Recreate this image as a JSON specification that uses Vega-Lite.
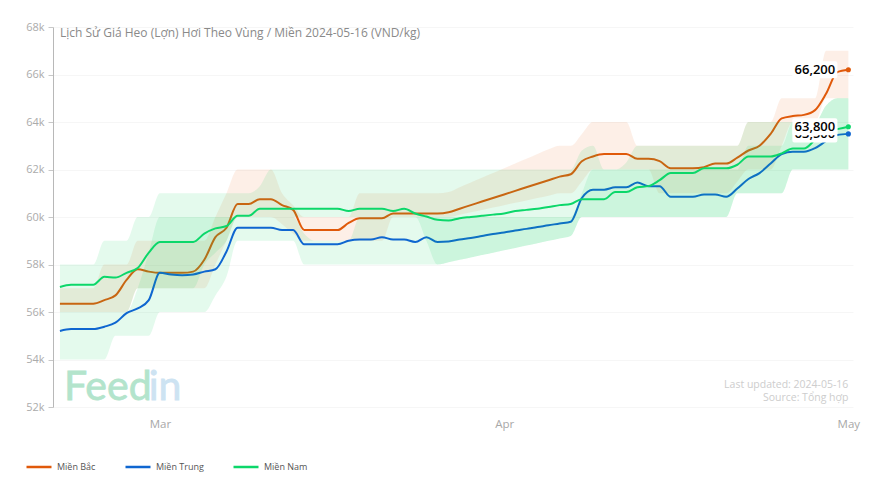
{
  "$schema": "https://vega.github.io/schema/vega-lite/v6.json",
  "width": 800,
  "height": 380,
  "autosize": {"type": "none"},
  "padding": {"left": 53, "top": 27, "right": 30, "bottom": 87},
  "background": "#ffffff",
  "title": {
    "text": "Lịch Sử Giá Heo (Lợn) Hơi Theo Vùng / Miền 2024-05-16 (VND/kg)",
    "anchor": "start", "frame": "group", "orient": "top", "offset": 0, "dx": 7, "dy": 19,
    "font": "Open Sans", "fontSize": 12, "fontWeight": "normal", "color": "#8a8a8a"
  },
  "config": {"view": {"stroke": null}, "font": "Open Sans"},
  "datasets": {
    "labels": [
      {"date": "2024-05-02", "region": "Miền Bắc", "price": 66200},
      {"date": "2024-05-02", "region": "Miền Trung", "price": 63500},
      {"date": "2024-05-02", "region": "Miền Nam", "price": 63800}
    ],
    "logo": [
      {"date": "2024-02-21", "price": 52290, "mark": "Feed"}
    ],
    "logo2": [
      {"date": "2024-02-29", "price": 52290, "mark": "in"}
    ],
    "notes": [
      {"date": "2024-05-02", "price": 52930, "note": "Last updated: 2024-05-16"},
      {"date": "2024-05-02", "price": 52380, "note": "Source: Tổng hợp"}
    ],
    "series": [
      {"date":"2024-02-21","region":"Miền Bắc","price":56350,"low":56000,"high":57000},
      {"date":"2024-02-22","region":"Miền Bắc","price":56350,"low":56000,"high":57000},
      {"date":"2024-02-23","region":"Miền Bắc","price":56350,"low":56000,"high":57000},
      {"date":"2024-02-24","region":"Miền Bắc","price":56350,"low":56000,"high":57000},
      {"date":"2024-02-25","region":"Miền Bắc","price":56500,"low":56000,"high":58000},
      {"date":"2024-02-26","region":"Miền Bắc","price":56700,"low":56000,"high":58000},
      {"date":"2024-02-27","region":"Miền Bắc","price":57350,"low":56000,"high":58000},
      {"date":"2024-02-28","region":"Miền Bắc","price":57800,"low":57000,"high":59000},
      {"date":"2024-02-29","region":"Miền Bắc","price":57700,"low":57000,"high":59000},
      {"date":"2024-03-01","region":"Miền Bắc","price":57650,"low":57000,"high":59000},
      {"date":"2024-03-02","region":"Miền Bắc","price":57650,"low":57000,"high":59000},
      {"date":"2024-03-03","region":"Miền Bắc","price":57650,"low":57000,"high":59000},
      {"date":"2024-03-04","region":"Miền Bắc","price":57700,"low":57000,"high":59000},
      {"date":"2024-03-05","region":"Miền Bắc","price":58200,"low":57000,"high":59000},
      {"date":"2024-03-06","region":"Miền Bắc","price":59150,"low":58000,"high":60000},
      {"date":"2024-03-07","region":"Miền Bắc","price":59550,"low":59000,"high":61000},
      {"date":"2024-03-08","region":"Miền Bắc","price":60550,"low":60000,"high":62000},
      {"date":"2024-03-09","region":"Miền Bắc","price":60550,"low":60000,"high":62000},
      {"date":"2024-03-10","region":"Miền Bắc","price":60750,"low":60000,"high":62000},
      {"date":"2024-03-11","region":"Miền Bắc","price":60750,"low":60000,"high":62000},
      {"date":"2024-03-12","region":"Miền Bắc","price":60500,"low":59700,"high":61000},
      {"date":"2024-03-13","region":"Miền Bắc","price":60300,"low":59300,"high":60500},
      {"date":"2024-03-14","region":"Miền Bắc","price":59450,"low":59000,"high":60000},
      {"date":"2024-03-15","region":"Miền Bắc","price":59450,"low":59000,"high":60000},
      {"date":"2024-03-16","region":"Miền Bắc","price":59450,"low":59000,"high":60000},
      {"date":"2024-03-17","region":"Miền Bắc","price":59450,"low":59000,"high":60000},
      {"date":"2024-03-18","region":"Miền Bắc","price":59750,"low":59000,"high":60000},
      {"date":"2024-03-19","region":"Miền Bắc","price":59950,"low":59000,"high":61000},
      {"date":"2024-03-20","region":"Miền Bắc","price":59950,"low":59000,"high":61000},
      {"date":"2024-03-21","region":"Miền Bắc","price":59950,"low":59000,"high":61000},
      {"date":"2024-03-22","region":"Miền Bắc","price":60150,"low":60000,"high":61000},
      {"date":"2024-03-23","region":"Miền Bắc","price":60150,"low":60000,"high":61000},
      {"date":"2024-03-24","region":"Miền Bắc","price":60150,"low":60000,"high":61000},
      {"date":"2024-03-25","region":"Miền Bắc","price":60150,"low":60000,"high":61000},
      {"date":"2024-03-26","region":"Miền Bắc","price":60150,"low":60000,"high":61000},
      {"date":"2024-03-27","region":"Miền Bắc","price":60200,"low":60000,"high":61050},
      {"date":"2024-03-28","region":"Miền Bắc","price":60350,"low":60100,"high":61250},
      {"date":"2024-03-29","region":"Miền Bắc","price":60500,"low":60200,"high":61450},
      {"date":"2024-03-30","region":"Miền Bắc","price":60650,"low":60300,"high":61650},
      {"date":"2024-03-31","region":"Miền Bắc","price":60800,"low":60400,"high":61850},
      {"date":"2024-04-01","region":"Miền Bắc","price":60950,"low":60500,"high":62050},
      {"date":"2024-04-02","region":"Miền Bắc","price":61100,"low":60600,"high":62250},
      {"date":"2024-04-03","region":"Miền Bắc","price":61250,"low":60700,"high":62450},
      {"date":"2024-04-04","region":"Miền Bắc","price":61400,"low":60800,"high":62650},
      {"date":"2024-04-05","region":"Miền Bắc","price":61550,"low":60900,"high":62850},
      {"date":"2024-04-06","region":"Miền Bắc","price":61700,"low":61000,"high":63000},
      {"date":"2024-04-07","region":"Miền Bắc","price":61800,"low":61000,"high":63000},
      {"date":"2024-04-08","region":"Miền Bắc","price":62350,"low":61500,"high":63500},
      {"date":"2024-04-09","region":"Miền Bắc","price":62550,"low":62000,"high":64000},
      {"date":"2024-04-10","region":"Miền Bắc","price":62650,"low":62000,"high":64000},
      {"date":"2024-04-11","region":"Miền Bắc","price":62650,"low":62000,"high":64000},
      {"date":"2024-04-12","region":"Miền Bắc","price":62650,"low":62000,"high":64000},
      {"date":"2024-04-13","region":"Miền Bắc","price":62450,"low":62000,"high":63000},
      {"date":"2024-04-14","region":"Miền Bắc","price":62450,"low":62000,"high":63000},
      {"date":"2024-04-15","region":"Miền Bắc","price":62350,"low":61000,"high":63000},
      {"date":"2024-04-16","region":"Miền Bắc","price":62050,"low":61000,"high":63000},
      {"date":"2024-04-17","region":"Miền Bắc","price":62050,"low":61000,"high":63000},
      {"date":"2024-04-18","region":"Miền Bắc","price":62050,"low":61000,"high":63000},
      {"date":"2024-04-19","region":"Miền Bắc","price":62100,"low":61000,"high":63000},
      {"date":"2024-04-20","region":"Miền Bắc","price":62250,"low":61000,"high":63000},
      {"date":"2024-04-21","region":"Miền Bắc","price":62250,"low":61000,"high":63000},
      {"date":"2024-04-22","region":"Miền Bắc","price":62500,"low":61500,"high":63000},
      {"date":"2024-04-23","region":"Miền Bắc","price":62800,"low":62000,"high":64000},
      {"date":"2024-04-24","region":"Miền Bắc","price":63000,"low":62000,"high":64000},
      {"date":"2024-04-25","region":"Miền Bắc","price":63500,"low":62000,"high":64000},
      {"date":"2024-04-26","region":"Miền Bắc","price":64150,"low":63000,"high":65000},
      {"date":"2024-04-27","region":"Miền Bắc","price":64250,"low":64000,"high":65000},
      {"date":"2024-04-28","region":"Miền Bắc","price":64300,"low":64000,"high":65000},
      {"date":"2024-04-29","region":"Miền Bắc","price":64500,"low":64000,"high":65000},
      {"date":"2024-04-30","region":"Miền Bắc","price":65200,"low":65000,"high":67000},
      {"date":"2024-05-01","region":"Miền Bắc","price":66100,"low":65000,"high":67000},
      {"date":"2024-05-02","region":"Miền Bắc","price":66200,"low":65000,"high":67000},

      {"date":"2024-02-21","region":"Miền Trung","price":55200,"low":54000,"high":56000},
      {"date":"2024-02-22","region":"Miền Trung","price":55280,"low":54000,"high":56000},
      {"date":"2024-02-23","region":"Miền Trung","price":55280,"low":54000,"high":56000},
      {"date":"2024-02-24","region":"Miền Trung","price":55280,"low":54000,"high":56000},
      {"date":"2024-02-25","region":"Miền Trung","price":55380,"low":54000,"high":56000},
      {"date":"2024-02-26","region":"Miền Trung","price":55550,"low":55000,"high":56000},
      {"date":"2024-02-27","region":"Miền Trung","price":55950,"low":55000,"high":56000},
      {"date":"2024-02-28","region":"Miền Trung","price":56150,"low":55000,"high":57000},
      {"date":"2024-02-29","region":"Miền Trung","price":56500,"low":55000,"high":58500},
      {"date":"2024-03-01","region":"Miền Trung","price":57650,"low":56000,"high":60000},
      {"date":"2024-03-02","region":"Miền Trung","price":57580,"low":56000,"high":60000},
      {"date":"2024-03-03","region":"Miền Trung","price":57550,"low":56000,"high":60000},
      {"date":"2024-03-04","region":"Miền Trung","price":57580,"low":56000,"high":60000},
      {"date":"2024-03-05","region":"Miền Trung","price":57700,"low":56000,"high":60000},
      {"date":"2024-03-06","region":"Miền Trung","price":57800,"low":56700,"high":60000},
      {"date":"2024-03-07","region":"Miền Trung","price":58550,"low":57500,"high":60000},
      {"date":"2024-03-08","region":"Miền Trung","price":59550,"low":59000,"high":60000},
      {"date":"2024-03-09","region":"Miền Trung","price":59550,"low":59000,"high":60000},
      {"date":"2024-03-10","region":"Miền Trung","price":59550,"low":59000,"high":60000},
      {"date":"2024-03-11","region":"Miền Trung","price":59550,"low":59000,"high":60000},
      {"date":"2024-03-12","region":"Miền Trung","price":59450,"low":59000,"high":60000},
      {"date":"2024-03-13","region":"Miền Trung","price":59450,"low":59000,"high":60000},
      {"date":"2024-03-14","region":"Miền Trung","price":58850,"low":58000,"high":59300},
      {"date":"2024-03-15","region":"Miền Trung","price":58850,"low":58000,"high":59000},
      {"date":"2024-03-16","region":"Miền Trung","price":58850,"low":58000,"high":59000},
      {"date":"2024-03-17","region":"Miền Trung","price":58850,"low":58000,"high":59000},
      {"date":"2024-03-18","region":"Miền Trung","price":59000,"low":58000,"high":59000},
      {"date":"2024-03-19","region":"Miền Trung","price":59050,"low":58000,"high":60000},
      {"date":"2024-03-20","region":"Miền Trung","price":59050,"low":58000,"high":60000},
      {"date":"2024-03-21","region":"Miền Trung","price":59150,"low":58000,"high":60000},
      {"date":"2024-03-22","region":"Miền Trung","price":59050,"low":58000,"high":60000},
      {"date":"2024-03-23","region":"Miền Trung","price":59050,"low":58000,"high":60000},
      {"date":"2024-03-24","region":"Miền Trung","price":58950,"low":58000,"high":60000},
      {"date":"2024-03-25","region":"Miền Trung","price":59150,"low":58000,"high":60000},
      {"date":"2024-03-26","region":"Miền Trung","price":58950,"low":58000,"high":60000},
      {"date":"2024-03-27","region":"Miền Trung","price":58970,"low":58100,"high":60000},
      {"date":"2024-03-28","region":"Miền Trung","price":59050,"low":58200,"high":60000},
      {"date":"2024-03-29","region":"Miền Trung","price":59120,"low":58300,"high":60000},
      {"date":"2024-03-30","region":"Miền Trung","price":59200,"low":58400,"high":60000},
      {"date":"2024-03-31","region":"Miền Trung","price":59280,"low":58500,"high":60000},
      {"date":"2024-04-01","region":"Miền Trung","price":59350,"low":58600,"high":60000},
      {"date":"2024-04-02","region":"Miền Trung","price":59430,"low":58700,"high":60000},
      {"date":"2024-04-03","region":"Miền Trung","price":59500,"low":58800,"high":60000},
      {"date":"2024-04-04","region":"Miền Trung","price":59580,"low":58900,"high":60000},
      {"date":"2024-04-05","region":"Miền Trung","price":59650,"low":59000,"high":60000},
      {"date":"2024-04-06","region":"Miền Trung","price":59730,"low":59100,"high":60000},
      {"date":"2024-04-07","region":"Miền Trung","price":59800,"low":59200,"high":60000},
      {"date":"2024-04-08","region":"Miền Trung","price":60800,"low":60000,"high":61000},
      {"date":"2024-04-09","region":"Miền Trung","price":61150,"low":60000,"high":62000},
      {"date":"2024-04-10","region":"Miền Trung","price":61150,"low":60000,"high":62000},
      {"date":"2024-04-11","region":"Miền Trung","price":61250,"low":60000,"high":62000},
      {"date":"2024-04-12","region":"Miền Trung","price":61250,"low":60000,"high":62000},
      {"date":"2024-04-13","region":"Miền Trung","price":61450,"low":60000,"high":62000},
      {"date":"2024-04-14","region":"Miền Trung","price":61300,"low":60000,"high":62000},
      {"date":"2024-04-15","region":"Miền Trung","price":61300,"low":60000,"high":62000},
      {"date":"2024-04-16","region":"Miền Trung","price":60850,"low":60000,"high":62000},
      {"date":"2024-04-17","region":"Miền Trung","price":60850,"low":60000,"high":62000},
      {"date":"2024-04-18","region":"Miền Trung","price":60850,"low":60000,"high":62000},
      {"date":"2024-04-19","region":"Miền Trung","price":60950,"low":60000,"high":62000},
      {"date":"2024-04-20","region":"Miền Trung","price":60950,"low":60000,"high":62000},
      {"date":"2024-04-21","region":"Miền Trung","price":60850,"low":60000,"high":62000},
      {"date":"2024-04-22","region":"Miền Trung","price":61200,"low":61000,"high":62000},
      {"date":"2024-04-23","region":"Miền Trung","price":61600,"low":61000,"high":63000},
      {"date":"2024-04-24","region":"Miền Trung","price":61850,"low":61000,"high":63000},
      {"date":"2024-04-25","region":"Miền Trung","price":62250,"low":61000,"high":63000},
      {"date":"2024-04-26","region":"Miền Trung","price":62650,"low":61000,"high":63000},
      {"date":"2024-04-27","region":"Miền Trung","price":62750,"low":62000,"high":64000},
      {"date":"2024-04-28","region":"Miền Trung","price":62750,"low":62000,"high":64000},
      {"date":"2024-04-29","region":"Miền Trung","price":62900,"low":62000,"high":64000},
      {"date":"2024-04-30","region":"Miền Trung","price":63200,"low":62000,"high":64700},
      {"date":"2024-05-01","region":"Miền Trung","price":63450,"low":62000,"high":65000},
      {"date":"2024-05-02","region":"Miền Trung","price":63500,"low":62000,"high":65000},

      {"date":"2024-02-21","region":"Miền Nam","price":57050,"low":56000,"high":58000},
      {"date":"2024-02-22","region":"Miền Nam","price":57150,"low":56000,"high":58000},
      {"date":"2024-02-23","region":"Miền Nam","price":57150,"low":56000,"high":58000},
      {"date":"2024-02-24","region":"Miền Nam","price":57150,"low":56000,"high":58000},
      {"date":"2024-02-25","region":"Miền Nam","price":57480,"low":56000,"high":59000},
      {"date":"2024-02-26","region":"Miền Nam","price":57450,"low":56000,"high":59000},
      {"date":"2024-02-27","region":"Miền Nam","price":57650,"low":56000,"high":59000},
      {"date":"2024-02-28","region":"Miền Nam","price":57850,"low":57000,"high":60000},
      {"date":"2024-02-29","region":"Miền Nam","price":58500,"low":57000,"high":60000},
      {"date":"2024-03-01","region":"Miền Nam","price":58950,"low":57000,"high":61000},
      {"date":"2024-03-02","region":"Miền Nam","price":58950,"low":57000,"high":61000},
      {"date":"2024-03-03","region":"Miền Nam","price":58950,"low":57000,"high":61000},
      {"date":"2024-03-04","region":"Miền Nam","price":58950,"low":57000,"high":61000},
      {"date":"2024-03-05","region":"Miền Nam","price":59300,"low":58000,"high":61000},
      {"date":"2024-03-06","region":"Miền Nam","price":59520,"low":58500,"high":61000},
      {"date":"2024-03-07","region":"Miền Nam","price":59620,"low":59000,"high":61000},
      {"date":"2024-03-08","region":"Miền Nam","price":60050,"low":60000,"high":61000},
      {"date":"2024-03-09","region":"Miền Nam","price":60050,"low":60000,"high":61000},
      {"date":"2024-03-10","region":"Miền Nam","price":60350,"low":60000,"high":61300},
      {"date":"2024-03-11","region":"Miền Nam","price":60350,"low":60000,"high":62000},
      {"date":"2024-03-12","region":"Miền Nam","price":60350,"low":60000,"high":62000},
      {"date":"2024-03-13","region":"Miền Nam","price":60350,"low":60000,"high":62000},
      {"date":"2024-03-14","region":"Miền Nam","price":60350,"low":60000,"high":62000},
      {"date":"2024-03-15","region":"Miền Nam","price":60350,"low":60000,"high":62000},
      {"date":"2024-03-16","region":"Miền Nam","price":60350,"low":60000,"high":62000},
      {"date":"2024-03-17","region":"Miền Nam","price":60350,"low":60000,"high":62000},
      {"date":"2024-03-18","region":"Miền Nam","price":60250,"low":60000,"high":62000},
      {"date":"2024-03-19","region":"Miền Nam","price":60350,"low":60000,"high":62000},
      {"date":"2024-03-20","region":"Miền Nam","price":60350,"low":60000,"high":62000},
      {"date":"2024-03-21","region":"Miền Nam","price":60350,"low":60000,"high":62000},
      {"date":"2024-03-22","region":"Miền Nam","price":60250,"low":60000,"high":62000},
      {"date":"2024-03-23","region":"Miền Nam","price":60350,"low":60000,"high":62000},
      {"date":"2024-03-24","region":"Miền Nam","price":60150,"low":60000,"high":62000},
      {"date":"2024-03-25","region":"Miền Nam","price":60020,"low":59000,"high":62000},
      {"date":"2024-03-26","region":"Miền Nam","price":59880,"low":58000,"high":62000},
      {"date":"2024-03-27","region":"Miền Nam","price":59850,"low":58100,"high":62000},
      {"date":"2024-03-28","region":"Miền Nam","price":59950,"low":58200,"high":62000},
      {"date":"2024-03-29","region":"Miền Nam","price":60000,"low":58300,"high":62000},
      {"date":"2024-03-30","region":"Miền Nam","price":60050,"low":58400,"high":62000},
      {"date":"2024-03-31","region":"Miền Nam","price":60100,"low":58500,"high":62000},
      {"date":"2024-04-01","region":"Miền Nam","price":60150,"low":58600,"high":62000},
      {"date":"2024-04-02","region":"Miền Nam","price":60250,"low":58700,"high":62000},
      {"date":"2024-04-03","region":"Miền Nam","price":60300,"low":58800,"high":62000},
      {"date":"2024-04-04","region":"Miền Nam","price":60350,"low":58900,"high":62000},
      {"date":"2024-04-05","region":"Miền Nam","price":60420,"low":59000,"high":62000},
      {"date":"2024-04-06","region":"Miền Nam","price":60500,"low":59100,"high":62000},
      {"date":"2024-04-07","region":"Miền Nam","price":60550,"low":59200,"high":62000},
      {"date":"2024-04-08","region":"Miền Nam","price":60750,"low":60000,"high":62800},
      {"date":"2024-04-09","region":"Miền Nam","price":60750,"low":60000,"high":63000},
      {"date":"2024-04-10","region":"Miền Nam","price":60750,"low":60000,"high":62000},
      {"date":"2024-04-11","region":"Miền Nam","price":61050,"low":60000,"high":62000},
      {"date":"2024-04-12","region":"Miền Nam","price":61050,"low":60000,"high":62300},
      {"date":"2024-04-13","region":"Miền Nam","price":61250,"low":60000,"high":63000},
      {"date":"2024-04-14","region":"Miền Nam","price":61300,"low":60000,"high":63000},
      {"date":"2024-04-15","region":"Miền Nam","price":61550,"low":60000,"high":63000},
      {"date":"2024-04-16","region":"Miền Nam","price":61850,"low":60000,"high":63000},
      {"date":"2024-04-17","region":"Miền Nam","price":61850,"low":60000,"high":63000},
      {"date":"2024-04-18","region":"Miền Nam","price":61850,"low":60000,"high":63000},
      {"date":"2024-04-19","region":"Miền Nam","price":62050,"low":60000,"high":63000},
      {"date":"2024-04-20","region":"Miền Nam","price":62050,"low":60000,"high":63000},
      {"date":"2024-04-21","region":"Miền Nam","price":62050,"low":60000,"high":63000},
      {"date":"2024-04-22","region":"Miền Nam","price":62200,"low":61000,"high":63000},
      {"date":"2024-04-23","region":"Miền Nam","price":62550,"low":61000,"high":64000},
      {"date":"2024-04-24","region":"Miền Nam","price":62550,"low":61000,"high":64000},
      {"date":"2024-04-25","region":"Miền Nam","price":62550,"low":61000,"high":64000},
      {"date":"2024-04-26","region":"Miền Nam","price":62680,"low":61000,"high":64000},
      {"date":"2024-04-27","region":"Miền Nam","price":62880,"low":62000,"high":64000},
      {"date":"2024-04-28","region":"Miền Nam","price":62880,"low":62000,"high":64000},
      {"date":"2024-04-29","region":"Miền Nam","price":63250,"low":62000,"high":64000},
      {"date":"2024-04-30","region":"Miền Nam","price":63600,"low":62000,"high":64700},
      {"date":"2024-05-01","region":"Miền Nam","price":63700,"low":62000,"high":65000},
      {"date":"2024-05-02","region":"Miền Nam","price":63800,"low":62000,"high":65000}
    ]
  },
  "data": {"name": "series"},
  "encoding": {
    "x": {
      "field": "date",
      "type": "temporal",
      "title": null,
      "scale": {
        "type": "utc",
        "domain": [
          {"year": 2024, "month": 2, "date": 20, "hours": 9, "utc": true},
          {"year": 2024, "month": 5, "date": 2, "hours": 10, "utc": true}
        ]
      },
      "axis": {
        "values": [
          {"year": 2024, "month": 3, "date": 1, "utc": true},
          {"year": 2024, "month": 4, "date": 1, "utc": true},
          {"year": 2024, "month": 5, "date": 2, "utc": true}
        ],
        "labelExpr": "utcFormat(datum.value, '%b')",
        "domain": false,
        "ticks": false,
        "grid": false,
        "labelFont": "Open Sans",
        "labelFontSize": 11.5,
        "labelColor": "#a8a8a8",
        "labelPadding": 11,
        "labelFlush": false,
        "labelOverlap": false,
        "labelBound": false
      }
    },
    "y": {
      "field": "price",
      "type": "quantitative",
      "title": null,
      "scale": {"domain": [52000, 68000], "nice": false, "zero": false},
      "axis": {
        "values": [52000, 54000, 56000, 58000, 60000, 62000, 64000, 66000, 68000],
        "labelExpr": "datum.value / 1000 + 'k'",
        "domain": true,
        "domainColor": "#b8b8b8",
        "domainWidth": 1,
        "ticks": true,
        "tickColor": "#c8c8c8",
        "tickSize": 5,
        "grid": true,
        "gridColor": "#f6f6f6",
        "gridWidth": 1,
        "labelFont": "Open Sans",
        "labelFontSize": 11,
        "labelColor": "#ababab",
        "labelPadding": 4
      }
    }
  },
  "layer": [
    {
      "transform": [{"filter": "datum.region === 'Miền Bắc'"}],
      "mark": {"type": "area", "interpolate": "monotone", "color": "#ee7a37", "opacity": 0.12},
      "encoding": {"y": {"field": "low", "type": "quantitative"}, "y2": {"field": "high"}}
    },
    {
      "transform": [{"filter": "datum.region === 'Miền Bắc'"}],
      "mark": {"type": "line", "interpolate": "monotone", "strokeWidth": 2},
      "encoding": {
        "color": {
          "field": "region", "type": "nominal", "title": null,
          "scale": {"domain": ["Miền Bắc", "Miền Trung", "Miền Nam"], "range": ["#e0590a", "#0f66d0", "#0cd76a"]},
          "legend": {
            "orient": "none", "legendX": -28, "legendY": 426, "direction": "horizontal", "columns": 3,
            "symbolType": "stroke", "symbolSize": 625, "symbolStrokeWidth": 2.5,
            "labelFont": "Open Sans", "labelFontSize": 9, "labelColor": "#555555",
            "columnPadding": 24, "labelOffset": 4
          }
        }
      }
    },
    {
      "transform": [{"filter": "datum.region === 'Miền Trung'"}],
      "mark": {"type": "area", "interpolate": "monotone", "color": "#05cd5f", "opacity": 0.11},
      "encoding": {"y": {"field": "low", "type": "quantitative"}, "y2": {"field": "high"}}
    },
    {
      "transform": [{"filter": "datum.region === 'Miền Trung'"}],
      "mark": {"type": "line", "interpolate": "monotone", "strokeWidth": 2},
      "encoding": {"color": {"field": "region", "type": "nominal"}}
    },
    {
      "transform": [{"filter": "datum.region === 'Miền Nam'"}],
      "mark": {"type": "area", "interpolate": "monotone", "color": "#05cd5f", "opacity": 0.11},
      "encoding": {"y": {"field": "low", "type": "quantitative"}, "y2": {"field": "high"}}
    },
    {
      "transform": [{"filter": "datum.region === 'Miền Nam'"}],
      "mark": {"type": "line", "interpolate": "monotone", "strokeWidth": 2},
      "encoding": {"color": {"field": "region", "type": "nominal"}}
    },
    {
      "data": {"name": "labels"},
      "mark": {"type": "circle", "size": 26, "opacity": 1},
      "encoding": {"color": {"field": "region", "type": "nominal"}}
    },
    {
      "data": {"name": "labels"},
      "transform": [{"filter": "datum.region !== 'Miền Nam'"}],
      "layer": [
        {"mark": {"type": "rect", "width": 45, "height": 17, "xOffset": -33.5, "color": "#ffffff", "opacity": 1, "cornerRadius": 2}},
        {
          "mark": {"type": "text", "dx": -33.5, "align": "center", "baseline": "middle", "font": "Open Sans", "fontSize": 13, "fontWeight": 600, "color": "#000000"},
          "encoding": {"text": {"field": "price", "type": "quantitative", "format": ",.0f"}}
        }
      ]
    },
    {
      "data": {"name": "labels"},
      "transform": [{"filter": "datum.region === 'Miền Nam'"}],
      "layer": [
        {"mark": {"type": "rect", "width": 45, "height": 17, "xOffset": -33.5, "color": "#ffffff", "opacity": 1, "cornerRadius": 2}},
        {
          "mark": {"type": "text", "dx": -33.5, "align": "center", "baseline": "middle", "font": "Open Sans", "fontSize": 13, "fontWeight": 600, "color": "#000000"},
          "encoding": {"text": {"field": "price", "type": "quantitative", "format": ",.0f"}}
        }
      ]
    },
    {
      "data": {"name": "notes"},
      "mark": {"type": "text", "align": "right", "baseline": "middle", "font": "Open Sans", "fontSize": 10.5, "color": "#cdcdcd"},
      "encoding": {"text": {"field": "note"}}
    },
    {
      "data": {"name": "logo"},
      "mark": {"type": "text", "align": "left", "baseline": "alphabetic", "dx": 4, "font": "Lato", "fontSize": 41, "color": "#b3e4cc", "stroke": "#b3e4cc", "strokeWidth": 0.8},
      "encoding": {"text": {"field": "mark"}}
    },
    {
      "data": {"name": "logo2"},
      "mark": {"type": "text", "align": "left", "baseline": "alphabetic", "dx": 0, "font": "Lato", "fontSize": 41, "color": "#cde3f2", "stroke": "#cde3f2", "strokeWidth": 0.8},
      "encoding": {"text": {"field": "mark"}}
    }
  ]
}
